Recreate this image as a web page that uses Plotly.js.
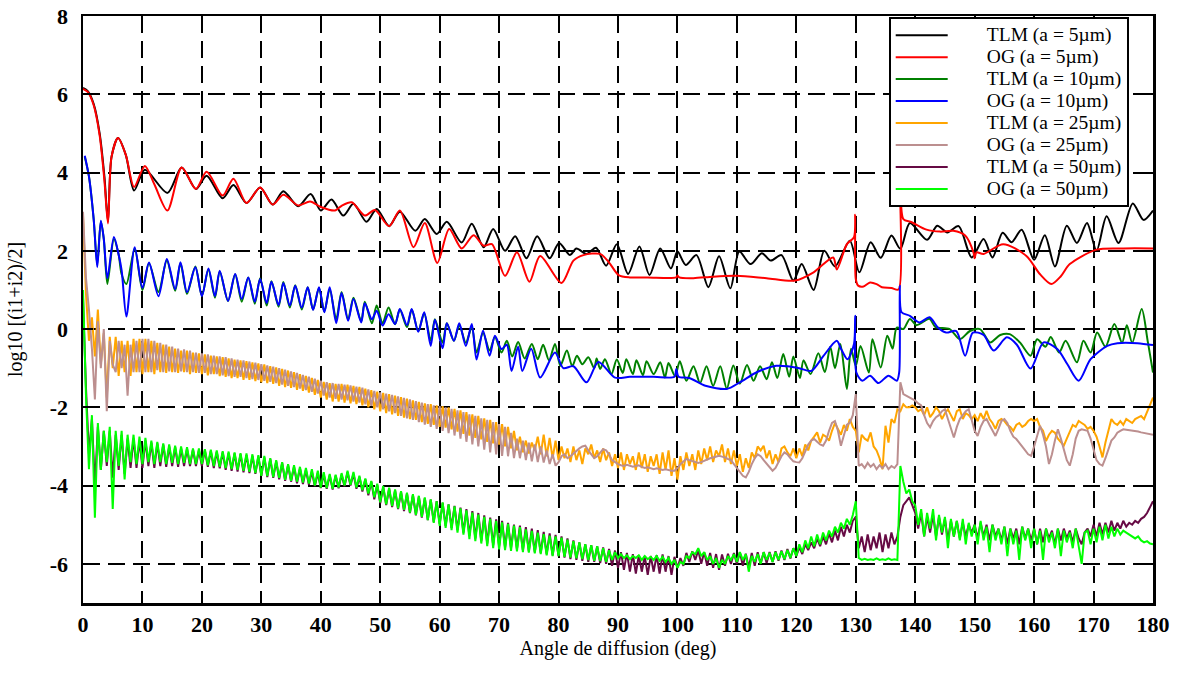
<!DOCTYPE html>
<html><head><meta charset="utf-8">
<script src="https://cdn.plot.ly/plotly-3.0.1.min.js"></script>
<style>html,body{margin:0;padding:0;background:#fff}#chart{width:1178px;height:678px}</style>
</head><body><div id="chart"></div>
<script>
// ---- TLM / OG, a = 5 µm (extrema) ----
const tlm5X = [0,0.8,1.8,2.8,3.6,4.2,4.8,5.9,7.2,8.6,10.4,14.2,16.6,19,20.8,23.5,25.3,27.5,29.8,31.9,33.7,36.2,38.3,40,41.8,43.8,45.5,47.7,49.4,51.5,53.3,55.9,57.5,59.5,61.2,63.7,65.4,67.4,69,71,72.7,74.6,76.4,78.5,80.1,81.9,83,84.7,86.3,88,89.8,91.7,93.6,95.3,97.1,98.9,100,101.4,103.2,105.2,107,108.9,110.4,112.3,114.2,115.7,117.5,119.5,120.9,122.9,124.7,126.5,129,130.6,132.5,134.2,136,137.5,139.1,142,143.7,145.4,147.3,149.5,151.5,153,154.7,156.2,157.9,160,161.8,163.5,165.5,167.2,168.9,170.5,172.2,174.2,176.6,178.4,180];
const tlm5Y = [6.16,6.08,5.75,5.0,3.9,2.75,4.4,4.88,4.45,3.54,4.07,3.48,4.13,3.58,3.92,3.34,3.68,3.22,3.62,3.18,3.52,3.14,3.45,3.03,3.31,2.90,3.20,2.74,3.07,2.63,3.00,2.51,2.81,2.43,2.74,2.21,2.69,2.09,2.56,2.00,2.37,1.81,2.37,1.81,2.20,1.89,2.06,1.92,2.08,1.62,2.17,1.41,2.11,1.38,2.06,1.55,1.98,1.64,1.89,1.07,1.86,1.04,1.98,1.66,1.94,1.75,1.89,1.24,1.66,1.00,2.00,1.60,2.26,1.45,2.22,1.82,2.39,2.05,2.71,2.28,2.64,2.47,2.63,1.83,2.30,1.83,2.46,2.22,2.54,1.77,2.40,1.60,2.64,2.20,2.71,2.00,2.88,2.20,3.21,2.79,3.03];
const og5X = [0,0.8,1.8,2.8,3.6,4.2,4.8,5.9,7.2,8.6,10.4,12,14.2,16.6,19,20.8,23.5,25.3,27.5,29.8,31.9,33.7,36.2,38.2,40,42.4,43.5,45.2,47.4,49.1,51.5,53.3,55.6,57.5,59.6,61.6,63.7,65.7,67.4,68.8,71,73,75.1,76.9,80.5,82.5,84.2,87,88.5,90.1,92,95,99.8,100,100.3,102.7,106,110,115,119.8,122.9,126.2,126.8,128.5,129.7,129.9,130,130.4,131.3,132.4,133.5,134.4,136,137.2,137.5,138,139.4,141.9,144.2,146.4,148.4,149.8,150,150.3,151.5,154.8,158.7,161,162.9,164.5,166,170.5,175,180];
const og5Y = [6.14,6.06,5.72,4.95,3.8,2.7,4.4,4.88,4.45,3.63,4.17,3.7,3.03,4.13,3.58,4.02,3.41,3.84,3.22,3.62,3.18,3.43,3.16,3.26,3.12,3.03,3.15,3.24,2.90,3.04,2.63,3.03,2.09,2.71,1.69,2.56,2.06,2.40,2.13,2.17,1.36,1.96,1.21,1.87,1.18,1.75,1.89,1.92,1.7,1.38,1.32,1.32,1.32,1.37,1.32,1.30,1.34,1.36,1.30,1.24,1.45,1.83,1.52,2.17,2.35,2.92,1.28,1.11,1.09,1.19,1.15,1.07,1.05,1.01,3.51,2.81,2.73,2.54,2.49,2.51,2.39,1.96,1.81,1.96,1.92,2.17,1.87,1.4,1.15,1.35,1.66,2.03,2.06,2.06];

// ---- TLM / OG, a = 10 µm ----
const tlm10X = [0.3,1,1.8,2.4,3.0,3.5,4.1,5.2,6,6.5,7.3,8.7,10,11.1,12.7,14.1,15.5,16.4,17.5,18.9,20,21.1,22.2,23,24.4,25.6,26.7,27.8,28.9,29.8,30.9,31.7,32.9,33.7,34.8,35.7,36.8,37.8,38.7,39.7,40.6,41.5,42.6,43.5,44.6,45.5,46.8,47.4,48.6,49.4,50.4,51.4,52.5,53.3,54.5,55.3,56.4,57.4,58.5,59.2,60.5,61.2,62.4,63.3,64.4,65.4,66.2,67.3,68.4,69.3,70.4,71.3,72.2,73.2,74.3,75.5,76.5,77.4,78.4,79.4,80.3,81.4,82.3,83.1,84,85,86,86.4,87,87.8,88.9,89.8,90.8,91.4,92.5,93.1,94.2,94.8,96,97.1,97.9,98.5,99.6,100.4,101.5,102.7,103.8,104.9,106,107.2,108.3,109.4,110.5,111.7,112.8,113.9,115,115.9,116.8,117.8,118.8,119.5,120.6,121.2,122.4,123.7,124.8,125.7,126.5,127.4,128.5,129.2,130,130.8,132.2,132.8,134.2,135.3,136.2,136.9,138,139.1,140.2,142.4,143.4,145.8,147.5,149.2,150.9,152.6,154.3,155.9,157.6,159.4,160.5,161.9,162.8,164.2,165.3,167.2,168.3,169.5,170.6,172,173.5,174.8,175.6,176.5,178.1,179.1,180];
const tlm10Y = [4.4,3.9,2.8,1.65,2.75,2.3,1.15,2.3,1.9,1.4,1.15,2.05,1.0,1.68,0.95,1.75,0.98,1.68,0.9,1.6,0.85,1.52,0.8,1.47,0.72,1.4,0.7,1.32,0.65,1.3,0.6,1.22,0.57,1.2,0.55,1.12,0.5,1.07,0.5,1.05,0.45,1.02,0.25,0.95,0.25,0.8,0.2,0.7,0.15,0.6,0.15,0.55,0.12,0.5,0.05,0.5,-0.05,0.4,-0.3,0.25,-0.35,0.15,-0.3,0.1,-0.35,0.05,-0.6,-0.1,-0.55,-0.2,-0.6,-0.3,-0.7,-0.33,-0.75,-0.38,-0.77,-0.4,-0.8,-0.38,-0.94,-0.55,-0.95,-0.68,-0.9,-0.72,-1.0,-0.75,-1.02,-0.77,-1.15,-0.78,-1.12,-0.77,-1.15,-0.8,-1.18,-0.82,-1.15,-0.85,-1.24,-0.87,-1.2,-0.82,-1.32,-0.95,-1.38,-0.95,-1.45,-0.95,-1.52,-0.93,-1.4,-0.92,-1.32,-0.95,-1.28,-0.85,-1.25,-0.64,-1.22,-0.7,-1.25,-0.8,-1.15,-0.62,-1.1,-0.45,-1.0,-0.38,-1.53,-0.5,-0.94,-0.43,-1.11,-0.26,-0.98,-0.17,-0.5,0.04,0.0,0.26,0.1,0.26,0.05,0.0,-0.26,-0.05,0.0,-0.34,-0.15,-0.13,-0.34,-0.68,-0.26,-0.45,-0.2,-0.6,-0.3,-0.85,-0.3,-0.6,-0.09,-0.45,0.13,-0.35,0.1,-0.35,0.51,-0.3,-1.11];
const og10X = [0.3,1,1.8,2.4,3.0,3.5,4.1,5.2,6,6.5,7.3,8.7,10,11.1,12.7,14.1,15.5,16.4,17.5,18.9,20,21.1,22.2,23,24.4,25.6,26.7,27.8,28.9,29.8,30.9,31.7,32.9,33.7,34.8,35.7,36.8,37.8,38.7,39.7,40.6,41.5,42.6,43.5,44.6,45.5,46.8,47.4,48.6,49.4,50.4,51.4,52.5,53.3,54.5,55.3,56.4,57.4,58.5,59.2,60.5,61.2,62.4,63.3,64.4,65.4,66.2,67.3,68.4,69.3,70.4,71.3,72.1,73.2,73.9,75.4,76.9,79.4,80.8,82.5,84.7,86.7,89.5,92,96,99.5,99.8,100.2,102,104.7,108.3,110.5,113.5,116.6,118.5,120.5,122.5,124.5,126.8,127.5,128.6,129.7,129.9,130.1,131.1,132.4,133.8,135.5,136.9,137.3,137.4,137.7,139.1,140.7,142.4,143.8,145.2,146.9,148.4,149.7,151.5,153.2,155.4,157.1,159.4,161.6,163.9,165.6,167.5,169.5,172.3,174,177.4,180];
const og10Y = [4.43,3.9,2.8,1.58,2.77,2.3,1.3,2.35,1.9,1.5,0.32,2.09,1.05,1.70,0.84,1.79,1.02,1.71,0.94,1.58,0.84,1.55,0.84,1.49,0.72,1.41,0.77,1.32,0.70,1.28,0.66,1.21,0.61,1.18,0.60,1.11,0.55,1.07,0.49,1.07,0.43,1.07,0.15,0.92,0.21,0.77,0.17,0.66,0.25,0.47,0.09,0.38,0.13,0.51,0.1,0.51,-0.07,0.43,-0.43,0.24,-0.49,0.15,-0.3,0.15,-0.43,0.13,-0.78,-0.04,-0.68,-0.17,-0.51,-0.4,-1.07,-0.45,-1.07,-0.5,-1.24,-0.6,-1.0,-0.95,-1.36,-0.84,-1.24,-1.22,-1.22,-1.22,-1.02,-1.22,-1.25,-1.45,-1.53,-1.36,-1.09,-0.94,-0.95,-1.0,-1.07,-0.7,-0.30,-0.5,-0.77,-0.38,0.34,-1.11,-1.32,-1.19,-1.38,-1.19,-1.32,-1.11,1.11,0.43,0.34,0.17,0.30,0.04,-0.09,-0.05,-0.68,-0.09,-0.15,-0.55,-0.21,-0.4,-1.01,-0.34,-0.51,-0.9,-1.32,-0.77,-0.43,-0.36,-0.36,-0.41];

// ---- a = 25 µm and a = 50 µm: one value every 0.5 degree, 0..180 (10 degrees per row) ----
const tlm25Y = [
2.9,0.9,-0.3,0.3,-0.7,0.5,-0.9,-0.1,-1.75,-0.2,-1.0,-0.2,-1.2,-0.3,-1.1,-0.3,-1.2,-0.25,-1.1,-0.25,
-1.15,-0.25,-1.1,-0.3,-1.15,-0.35,-1.1,-0.4,-1.12,-0.45,-1.1,-0.5,-1.12,-0.55,-1.1,-0.55,-1.15,-0.6,-1.12,-0.62,
-1.15,-0.65,-1.18,-0.68,-1.15,-0.7,-1.2,-0.72,-1.22,-0.75,-1.25,-0.78,-1.25,-0.8,-1.3,-0.82,-1.3,-0.85,-1.33,-0.88,
-1.36,-0.9,-1.38,-0.95,-1.4,-0.98,-1.45,-1.02,-1.48,-1.06,-1.5,-1.1,-1.55,-1.15,-1.58,-1.2,-1.62,-1.25,-1.68,-1.3,
-1.75,-1.35,-1.8,-1.38,-1.85,-1.4,-1.85,-1.4,-1.88,-1.42,-1.9,-1.45,-1.92,-1.48,-1.95,-1.52,-2.0,-1.56,-2.05,-1.6,
-2.1,-1.63,-2.15,-1.66,-2.18,-1.7,-2.22,-1.74,-2.26,-1.78,-2.3,-1.82,-2.32,-1.86,-2.38,-1.9,-2.42,-1.92,-2.45,-1.95,
-2.5,-1.97,-2.52,-2.0,-2.56,-2.04,-2.62,-2.08,-2.68,-2.12,-2.72,-2.18,-2.78,-2.22,-2.82,-2.28,-2.88,-2.32,-2.92,-2.38,
-2.95,-2.43,-3.0,-2.5,-3.05,-2.6,-3.1,-2.75,-3.15,-2.85,-3.18,-2.9,-3.1,-2.75,-3.2,-2.7,-3.25,-2.78,-3.3,-2.85,
-3.35,-3.0,-3.3,-3.05,-3.4,-3.0,-3.35,-3.1,-3.45,-3.05,-3.2,-2.95,-3.3,-3.1,-3.4,-3.05,-3.35,-3.15,-3.5,-3.2,
-3.55,-3.15,-3.6,-3.2,-3.45,-3.25,-3.6,-3.15,-3.55,-3.2,-3.65,-3.25,-3.5,-3.2,-3.7,-3.15,-3.6,-3.1,-3.75,-3.3,
-3.85,-3.25,-3.6,-3.15,-3.5,-3.2,-3.6,-3.1,-3.45,-3.05,-3.35,-3.0,-3.4,-3.1,-3.25,-2.95,-3.4,-3.05,-3.45,-3.1,
-3.5,-3.2,-3.65,-3.3,-3.55,-3.15,-3.3,-3.0,-3.1,-2.98,-3.3,-3.1,-3.45,-3.2,-3.4,-3.05,-3.0,-3.15,-3.25,-3.05,
-3.3,-3.05,-3.25,-2.95,-3.1,-2.85,-2.75,-2.64,-2.9,-2.7,-2.75,-2.85,-2.6,-2.4,-2.55,-2.7,-2.45,-2.6,-2.3,-2.5,
-2.6,-3.15,-2.7,-2.8,-2.85,-2.64,-3.0,-3.1,-3.3,-3.58,-2.47,-2.9,-2.3,-2.4,-2.05,-2.1,-1.92,-2.0,-2.0,-1.95,
-2.0,-2.1,-2.05,-2.2,-2.0,-2.25,-2.15,-2.0,-2.1,-2.3,-2.15,-2.05,-2.2,-2.35,-2.1,-2.05,-2.3,-2.15,-2.2,-2.3,
-2.2,-2.35,-2.15,-2.3,-2.09,-2.3,-2.4,-2.55,-2.35,-2.3,-2.35,-2.45,-2.5,-2.6,-2.45,-2.4,-2.5,-2.45,-2.35,-2.3,
-2.35,-2.3,-2.5,-2.6,-2.86,-2.7,-2.6,-2.65,-2.8,-2.9,-2.98,-2.8,-2.6,-2.45,-2.5,-2.35,-2.4,-2.45,-2.55,-2.5,
-2.6,-2.75,-3.0,-3.28,-2.9,-2.6,-2.3,-2.4,-2.45,-2.35,-2.45,-2.3,-2.35,-2.4,-2.3,-2.25,-2.22,-2.3,-2.1,-1.9,
-1.75];
const og25Y = [
3.0,1.3,0.5,-0.5,-1.8,0.2,-1.0,0.0,-2.1,-0.3,-0.9,-1.1,-0.3,-1.0,-0.4,-1.7,-0.4,-1.1,-0.3,-1.1,
-0.25,-1.1,-0.25,-1.1,-0.3,-1.05,-0.35,-1.1,-0.4,-1.08,-0.45,-1.1,-0.5,-1.08,-0.52,-1.1,-0.55,-1.1,-0.6,-1.12,
-0.62,-1.12,-0.65,-1.15,-0.68,-1.15,-0.7,-1.18,-0.72,-1.2,-0.75,-1.22,-0.78,-1.22,-0.8,-1.25,-0.83,-1.28,-0.86,-1.3,
-0.9,-1.32,-0.93,-1.35,-0.96,-1.38,-1.0,-1.42,-1.04,-1.45,-1.08,-1.48,-1.12,-1.52,-1.17,-1.56,-1.22,-1.6,-1.27,-1.65,
-1.32,-1.7,-1.36,-1.75,-1.38,-1.78,-1.4,-1.8,-1.42,-1.82,-1.44,-1.85,-1.47,-1.88,-1.5,-1.92,-1.54,-1.96,-1.58,-2.0,
-1.62,-2.05,-1.65,-2.1,-1.68,-2.15,-1.72,-2.22,-1.76,-2.28,-1.8,-2.32,-1.84,-2.38,-1.88,-2.44,-1.92,-2.5,-1.95,-2.55,
-1.97,-2.6,-2.0,-2.66,-2.04,-2.72,-2.08,-2.8,-2.12,-2.88,-2.18,-2.95,-2.22,-3.0,-2.28,-3.08,-2.32,-3.15,-2.38,-3.2,
-2.43,-3.24,-2.5,-3.25,-2.65,-3.3,-2.8,-3.3,-2.85,-3.35,-2.9,-3.38,-2.95,-3.4,-3.0,-3.41,-3.1,-3.45,-3.2,-3.49,
-3.4,-3.25,-3.2,-3.3,-3.25,-3.18,-3.11,-3.05,-3.0,-2.98,-3.1,-3.2,-3.3,-3.25,-3.15,-3.07,-3.1,-3.2,-3.35,-3.41,
-3.45,-3.48,-3.5,-3.47,-3.5,-3.52,-3.5,-3.48,-3.52,-3.55,-3.53,-3.55,-3.58,-3.56,-3.58,-3.6,-3.58,-3.6,-3.62,-3.62,
-3.55,-3.45,-3.38,-3.32,-3.35,-3.38,-3.4,-3.42,-3.4,-3.36,-3.32,-3.3,-3.28,-3.26,-3.24,-3.26,-3.28,-3.32,-3.35,-3.45,
-3.55,-3.65,-3.75,-3.79,-3.65,-3.45,-3.3,-3.2,-3.25,-3.35,-3.45,-3.55,-3.62,-3.55,-3.4,-3.25,-3.15,-3.2,-3.3,-3.38,
-3.4,-3.41,-3.3,-3.1,-2.95,-2.85,-2.81,-2.88,-2.95,-2.98,-2.85,-2.6,-2.4,-2.35,-2.6,-2.98,-2.7,-2.45,-2.39,-2.2,
-1.66,-3.5,-3.45,-3.55,-3.42,-3.52,-3.45,-3.58,-3.48,-3.55,-3.45,-3.58,-3.5,-3.55,-3.45,-1.36,-1.66,-1.7,-1.75,-1.78,
-1.83,-1.9,-1.95,-2.2,-2.4,-2.51,-2.35,-2.25,-2.2,-2.1,-2.05,-2.3,-2.55,-2.77,-2.5,-2.3,-2.2,-2.1,-2.05,-2.3,
-2.6,-2.73,-2.5,-2.35,-2.3,-2.45,-2.6,-2.73,-2.55,-2.35,-2.3,-2.4,-2.6,-2.75,-2.81,-2.9,-3.0,-3.1,-3.2,-3.24,
-3.0,-2.7,-2.47,-2.7,-3.0,-3.45,-3.2,-2.85,-2.56,-2.8,-3.1,-3.35,-3.49,-3.2,-2.8,-2.6,-2.56,-2.58,-2.6,-2.8,
-3.1,-3.35,-3.45,-3.49,-3.3,-3.05,-2.85,-2.77,-2.65,-2.6,-2.56,-2.57,-2.58,-2.59,-2.6,-2.62,-2.64,-2.66,-2.68,-2.69,
-2.7];
const tlm50Y = [
0.8,-1.5,-3.2,-2.3,-4.0,-2.5,-3.6,-2.6,-3.5,-2.6,-3.8,-2.7,-3.6,-2.7,-3.7,-2.8,-3.55,-2.8,-3.55,-2.85,
-3.55,-2.85,-3.5,-2.9,-3.55,-2.92,-3.5,-2.95,-3.52,-3.0,-3.5,-3.02,-3.52,-3.05,-3.5,-3.06,-3.5,-3.08,-3.5,-3.1,
-3.5,-3.1,-3.52,-3.12,-3.55,-3.14,-3.56,-3.15,-3.6,-3.17,-3.62,-3.18,-3.64,-3.2,-3.66,-3.22,-3.68,-3.24,-3.7,-3.26,
-3.75,-3.28,-3.78,-3.32,-3.8,-3.38,-3.84,-3.42,-3.88,-3.48,-3.9,-3.52,-3.94,-3.56,-3.96,-3.6,-3.98,-3.64,-4.02,-3.68,
-4.06,-3.72,-4.08,-3.74,-4.1,-3.75,-4.07,-3.72,-4.02,-3.66,-4.0,-3.7,-4.08,-3.78,-4.15,-3.84,-4.25,-3.9,-4.35,-3.98,
-4.45,-4.04,-4.5,-4.08,-4.55,-4.12,-4.6,-4.16,-4.65,-4.2,-4.7,-4.24,-4.76,-4.28,-4.82,-4.32,-4.88,-4.36,-4.93,-4.4,
-4.98,-4.44,-5.03,-4.48,-5.08,-4.52,-5.14,-4.56,-5.2,-4.6,-5.28,-4.65,-5.35,-4.7,-5.42,-4.76,-5.48,-4.82,-5.52,-4.86,
-5.55,-4.9,-5.58,-4.95,-5.6,-5.0,-5.62,-5.02,-5.65,-5.06,-5.68,-5.1,-5.7,-5.14,-5.72,-5.18,-5.75,-5.22,-5.78,-5.26,
-5.8,-5.3,-5.84,-5.35,-5.88,-5.4,-5.9,-5.45,-5.92,-5.5,-5.95,-5.52,-5.95,-5.55,-5.98,-5.58,-6.0,-5.62,-6.05,-5.66,
-6.1,-5.7,-6.15,-5.72,-6.2,-5.75,-6.25,-5.78,-6.2,-5.8,-6.28,-5.8,-6.2,-5.78,-6.25,-5.76,-6.2,-5.8,-6.28,-5.82,
-6.1,-5.85,-6.05,-5.72,-5.95,-5.68,-5.9,-5.65,-6.0,-5.7,-6.05,-5.72,-6.1,-5.75,-6.15,-5.76,-6.05,-5.74,-6.0,-5.72,
-6.0,-5.7,-6.05,-5.74,-6.1,-5.72,-6.05,-5.7,-6.0,-5.7,-5.98,-5.7,-5.95,-5.68,-5.92,-5.66,-5.9,-5.62,-5.86,-5.6,
-5.8,-5.58,-5.75,-5.5,-5.65,-5.45,-5.6,-5.35,-5.55,-5.3,-5.5,-5.22,-5.45,-5.15,-5.4,-5.05,-5.3,-5.0,-5.2,-4.9,
-4.8,-5.6,-5.3,-5.7,-5.25,-5.65,-5.3,-5.6,-5.2,-5.7,-5.25,-5.6,-5.2,-5.5,-5.3,-4.8,-4.5,-4.4,-4.3,-4.5,
-4.7,-5.1,-4.7,-5.3,-4.8,-5.2,-4.75,-5.3,-4.8,-5.25,-4.85,-5.4,-4.9,-5.3,-4.9,-5.35,-4.95,-5.3,-5.0,-5.2,
-5.0,-5.35,-4.95,-5.3,-5.0,-5.4,-5.0,-5.3,-5.1,-5.4,-5.05,-5.5,-5.1,-5.35,-5.1,-5.5,-5.05,-5.35,-5.1,-5.4,
-5.1,-5.5,-5.1,-5.45,-5.1,-5.35,-5.15,-5.5,-5.1,-5.4,-5.1,-5.35,-5.15,-5.45,-5.1,-5.35,-5.5,-5.2,-5.1,-5.3,
-5.0,-5.3,-4.95,-5.25,-4.95,-5.2,-4.9,-5.15,-4.95,-5.1,-4.9,-5.05,-4.95,-5.0,-4.9,-4.95,-4.85,-4.8,-4.7,-4.55,
-4.4];
const og50Y = [
1.0,-1.7,-3.58,-2.2,-4.82,-2.4,-3.6,-2.6,-3.4,-2.5,-4.6,-2.6,-3.5,-2.6,-3.84,-2.7,-3.4,-2.7,-3.45,-2.75,
-3.45,-2.78,-3.4,-2.85,-3.45,-2.88,-3.4,-2.92,-3.45,-2.95,-3.42,-2.98,-3.45,-3.0,-3.42,-3.02,-3.45,-3.05,-3.45,-3.05,
-3.45,-3.07,-3.48,-3.08,-3.5,-3.1,-3.52,-3.12,-3.55,-3.13,-3.58,-3.15,-3.6,-3.17,-3.62,-3.18,-3.65,-3.2,-3.68,-3.22,
-3.75,-3.24,-3.76,-3.3,-3.78,-3.35,-3.8,-3.4,-3.85,-3.45,-3.88,-3.48,-3.9,-3.52,-3.92,-3.55,-3.95,-3.58,-4.0,-3.62,
-4.05,-3.66,-4.06,-3.7,-4.08,-3.72,-4.05,-3.68,-4.0,-3.62,-3.98,-3.65,-4.05,-3.75,-4.12,-3.82,-4.2,-3.88,-4.3,-3.95,
-4.43,-4.01,-4.48,-4.05,-4.52,-4.1,-4.58,-4.14,-4.62,-4.18,-4.69,-4.22,-4.75,-4.26,-4.8,-4.3,-4.88,-4.35,-4.95,-4.4,
-5.03,-4.43,-5.08,-4.48,-5.14,-4.53,-5.2,-4.58,-5.25,-4.63,-5.37,-4.69,-5.42,-4.74,-5.48,-4.8,-5.55,-4.85,-5.6,-4.9,
-5.63,-4.94,-5.65,-4.98,-5.67,-5.02,-5.68,-5.06,-5.7,-5.12,-5.71,-5.16,-5.73,-5.2,-5.75,-5.24,-5.78,-5.28,-5.8,-5.3,
-5.8,-5.33,-5.82,-5.38,-5.84,-5.42,-5.86,-5.45,-5.88,-5.5,-5.9,-5.52,-5.92,-5.55,-5.93,-5.6,-5.95,-5.65,-5.9,-5.7,
-5.85,-5.75,-5.85,-5.78,-5.88,-5.8,-5.85,-5.78,-5.9,-5.8,-5.88,-5.82,-5.9,-5.8,-5.92,-5.82,-5.95,-5.85,-6.0,-5.9,
-6.1,-5.95,-6.0,-5.8,-5.85,-5.7,-5.75,-5.6,-5.8,-5.7,-5.9,-5.8,-6.0,-5.85,-6.1,-5.9,-6.0,-5.8,-5.9,-5.75,
-5.95,-5.7,-5.9,-5.75,-6.2,-5.8,-5.95,-5.75,-6.0,-5.7,-5.9,-5.72,-5.95,-5.7,-5.9,-5.68,-5.88,-5.65,-5.85,-5.6,
-5.8,-5.5,-5.7,-5.4,-5.6,-5.3,-5.55,-5.25,-5.5,-5.2,-5.4,-5.15,-5.3,-5.05,-5.2,-4.95,-5.1,-4.85,-5.0,-4.75,
-4.4,-5.85,-5.9,-5.87,-5.9,-5.88,-5.9,-5.86,-5.9,-5.88,-5.9,-5.86,-5.9,-5.88,-5.9,-3.5,-3.9,-4.2,-4.1,-4.4,
-4.5,-5.0,-4.6,-5.3,-4.7,-5.1,-4.6,-5.4,-4.75,-5.2,-4.8,-5.6,-4.85,-5.3,-4.9,-5.4,-4.85,-5.5,-4.95,-5.3,
-5.0,-5.5,-4.9,-5.4,-5.05,-5.7,-5.0,-5.4,-5.1,-5.5,-5.05,-5.8,-5.1,-5.5,-5.15,-5.9,-5.05,-5.4,-5.1,-5.6,
-5.1,-5.5,-5.15,-5.9,-5.1,-5.45,-5.2,-5.6,-5.1,-5.8,-5.15,-5.45,-5.2,-5.6,-5.1,-5.5,-6.0,-5.2,-5.15,-5.5,
-5.1,-5.45,-5.05,-5.4,-5.0,-5.35,-5.05,-5.3,-5.1,-5.25,-5.15,-5.2,-5.25,-5.3,-5.35,-5.3,-5.4,-5.45,-5.42,-5.48,
-5.5];

const seriesNames = ['TLM (a = 5µm)','OG (a = 5µm)','TLM (a = 10µm)','OG (a = 10µm)','TLM (a = 25µm)','OG (a = 25µm)','TLM (a = 50µm)','OG (a = 50µm)'];
const seriesColors = ['#000000','#ff0000','#008000','#0000ff','#ffa500','#bc8f8f','#660a44','#00ff00'];
const yTickVals = [-6,-4,-2,0,2,4,6,8];
const yTickText = ['-6','-4','-2','0','2','4','6','8'];

const serif = '"Liberation Serif","Times New Roman",serif';
const legendLabel = (i) => '<span style="font-size:19.5px">\u00a0\u00a0\u00a0\u00a0\u00a0\u00a0\u00a0' + seriesNames[i] + '</span>';
const smooth = (x, y, i) => ({x: x, y: y, name: legendLabel(i), type: 'scatter', mode: 'lines',
  line: {color: seriesColors[i], width: 2, shape: 'spline', smoothing: 0.8}});
const dense = (y, i) => ({y: y, x0: 0, dx: 0.5, name: legendLabel(i), type: 'scatter', mode: 'lines',
  line: {color: seriesColors[i], width: 2}});

const data = [
  smooth(tlm5X, tlm5Y, 0), smooth(og5X, og5Y, 1),
  smooth(tlm10X, tlm10Y, 2), smooth(og10X, og10Y, 3),
  dense(tlm25Y, 4), dense(og25Y, 5),
  dense(tlm50Y, 6), dense(og50Y, 7)
];

const axisCommon = {
  showline: true, linecolor: '#000', linewidth: 2.5, mirror: 'ticks',
  ticks: 'inside', ticklen: 10, tickwidth: 2, tickcolor: '#000',
  showgrid: true, gridcolor: '#000', gridwidth: 2, griddash: '17px,8px',
  zeroline: false,
  tickfont: {family: serif, size: 22, color: '#000', weight: 'bold'}
};

const layout = {
  width: 1178, height: 678,
  margin: {l: 83, r: 25, t: 16, b: 75},
  paper_bgcolor: '#fff', plot_bgcolor: '#fff',
  showlegend: true,
  legend: {x: 0.753, xanchor: 'left', y: 0.998, yanchor: 'top',
    bgcolor: '#fff', bordercolor: '#000', borderwidth: 2,
    font: {family: serif, size: 14.6, color: '#000'}, itemwidth: 52, tracegroupgap: 0},
  xaxis: Object.assign({}, axisCommon, {range: [0, 180], tick0: 0, dtick: 10, ticklabelstandoff: 0,
    title: {text: 'Angle de diffusion (deg)', font: {family: serif, size: 20, color: '#000'}, standoff: 4}}),
  yaxis: Object.assign({}, axisCommon, {range: [-7, 8], tickvals: yTickVals, ticktext: yTickText, ticklabelstandoff: 8,
    title: {text: 'log10 [(i1+i2)/2]', font: {family: serif, size: 20, color: '#000'}, standoff: 22}})
};

Plotly.newPlot('chart', data, layout, {displayModeBar: false, staticPlot: true});
</script>
</body></html>
